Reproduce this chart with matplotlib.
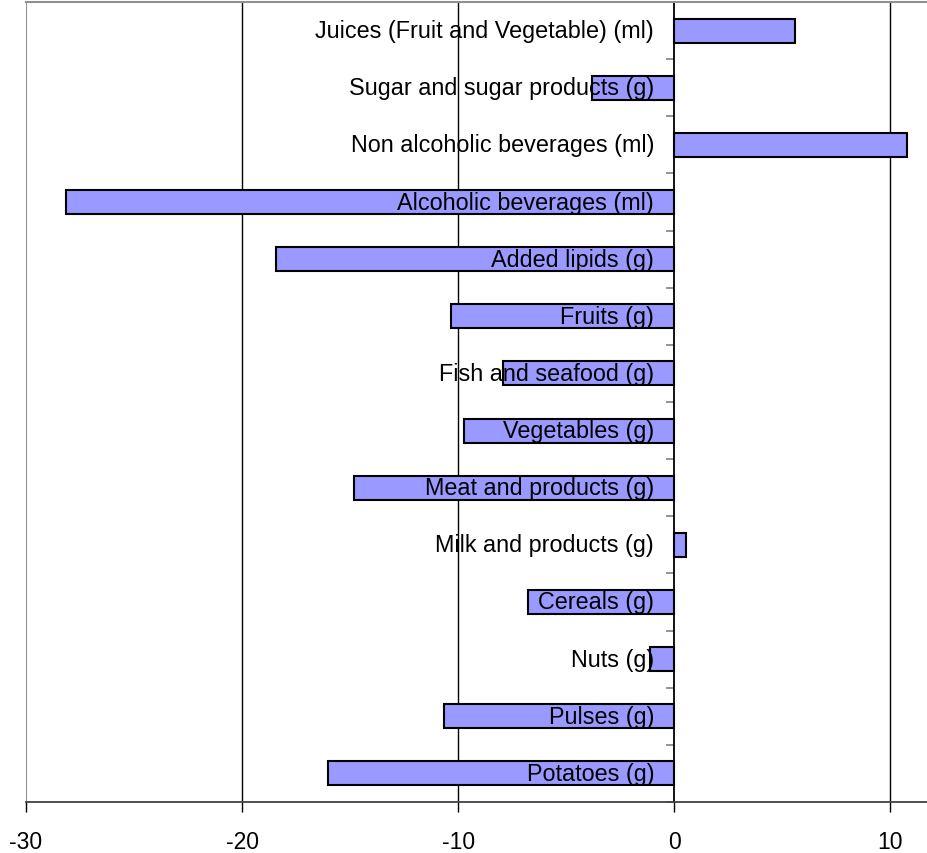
import matplotlib
matplotlib.use("Agg")
import matplotlib.pyplot as plt
import numpy as np

plt.rcParams['font.family'] = ['Liberation Sans', 'DejaVu Sans']

# categories, top to bottom
categories = ["Juices (Fruit and Vegetable) (ml)", "Sugar and sugar products (g)",
              "Non alcoholic beverages (ml)", "Alcoholic beverages (ml)",
              "Added lipids (g)", "Fruits (g)", "Fish and seafood (g)",
              "Vegetables (g)", "Meat and products (g)", "Milk and products (g)",
              "Cereals (g)", "Nuts (g)", "Pulses (g)", "Potatoes (g)"]
values = [5.56, -3.82, 10.75, -28.17, -18.45, -10.35, -7.94,
          -9.75, -14.84, 0.56, -6.78, -1.13, -10.67, -16.04]
xticks = [-30, -20, -10, 0, 10]

fig = plt.figure(figsize=(9.27, 8.54), dpi=100)
ax = fig.add_axes([26/927, 51/854, 1 - 26/927, 800/854])

y = np.arange(len(categories))
ax.barh(y, values, height=0.42, color='#9999FF', edgecolor='black',
        linewidth=1.5, zorder=2)

for xv in [-20, -10, 10]:
    ax.axvline(xv, color='black', linewidth=1, zorder=1)
ax.axvline(-30, color='#909090', linewidth=1.5, zorder=1)

for i, lab in enumerate(categories):
    ax.annotate(lab, (0, i), xytext=(-14.5, 0), textcoords='offset points',
                ha='right', va='center', fontsize=16.8, zorder=5)

ax.set_xlim(-30, 11.69)
ax.set_ylim(len(categories) - 0.5, -0.5)

ax.spines['left'].set_position(('data', 0))
ax.spines['left'].set_color('black')
ax.spines['left'].set_linewidth(1.3)
ax.spines['right'].set_visible(False)
ax.spines['top'].set_color('#909090')
ax.spines['top'].set_linewidth(1.5)
ax.spines['bottom'].set_color('#404040')
ax.spines['bottom'].set_linewidth(1.3)

ax.set_yticks(np.arange(len(categories) + 1) - 0.5)
ax.set_yticklabels([])
ax.tick_params(axis='y', direction='out', length=6, color='#808080', width=1.2)

ax.set_xticks(xticks)
ax.set_xticklabels([str(t) for t in xticks])
ax.tick_params(axis='x', direction='out', length=7, width=1, pad=13,
               labelsize=16.5)

fig.savefig('out.png', dpi=100)
